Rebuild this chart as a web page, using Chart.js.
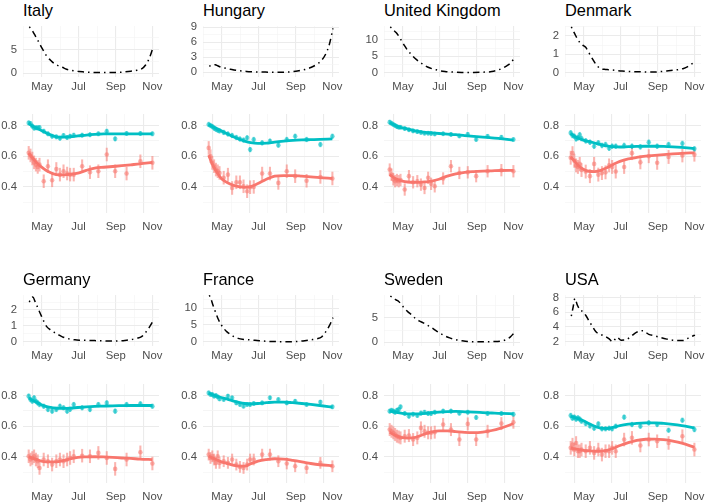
<!DOCTYPE html>
<html>
<head>
<meta charset="utf-8">
<script src="https://cdn.jsdelivr.net/npm/chart.js@4.4.1/dist/chart.umd.min.js"></script>
<style>
html, body { margin: 0; padding: 0; background: #fff; overflow: hidden; }
#wrap { position: relative; width: 709px; height: 502px; overflow: hidden; background: #fff; }
.title { position: absolute; font-family: "Liberation Sans", Arial, sans-serif; font-size: 16.4px; line-height: 16.4px; color: #000; white-space: nowrap; }
canvas { position: absolute; }
</style>
</head>
<body>
<div id="wrap"></div>
<script>
// ---- data (days are day-of-year 2020) ----
const countries = ['Italy', 'Hungary', 'United Kingdom', 'Denmark', 'Germany', 'France', 'Sweden', 'USA'];

const monthDays = [122, 183, 245, 306];
const monthLabels = ['May', 'Jul', 'Sep', 'Nov'];
const midMonthDays = [91.5, 152.5, 214, 275.5];

// upper panels
const topDays = [101, 104, 107, 111, 115, 120, 125, 130, 136, 142, 149, 156, 163, 170, 177, 184, 192, 200, 210, 220, 230, 240, 250, 260, 270, 280, 288, 295, 301, 307];
const topValues = [
  [9.8, 9.4, 8.8, 7.9, 7.0, 5.8, 4.7, 3.6, 2.8, 2.1, 1.6, 1.25, 0.85, 0.62, 0.47, 0.35, 0.28, 0.22, 0.16, 0.14, 0.14, 0.14, 0.18, 0.28, 0.42, 0.62, 0.92, 1.8, 3.2, 5.4],
  [1.2, 1.4, 1.55, 1.5, 1.3, 1.05, 0.9, 0.75, 0.6, 0.48, 0.36, 0.26, 0.18, 0.12, 0.09, 0.07, 0.05, 0.03, 0.02, 0.02, 0.05, 0.12, 0.3, 0.55, 0.95, 1.6, 2.4, 3.7, 5.6, 8.8],
  [14.0, 13.5, 12.9, 12.2, 11.2, 9.7, 8.2, 6.8, 5.6, 4.4, 3.4, 2.5, 1.75, 1.25, 0.9, 0.6, 0.38, 0.25, 0.15, 0.1, 0.1, 0.1, 0.12, 0.2, 0.35, 0.8, 1.4, 2.1, 2.9, 4.3],
  [2.5, 2.3, 2.1, 1.85, 1.65, 1.5, 1.38, 1.1, 0.76, 0.45, 0.22, 0.17, 0.15, 0.13, 0.1, 0.08, 0.06, 0.05, 0.04, 0.03, 0.02, 0.02, 0.05, 0.08, 0.12, 0.16, 0.22, 0.32, 0.45, 0.58],
  [2.5, 2.75, 2.82, 2.5, 2.15, 1.72, 1.3, 0.95, 0.75, 0.6, 0.45, 0.31, 0.22, 0.16, 0.12, 0.1, 0.09, 0.08, 0.07, 0.06, 0.05, 0.04, 0.05, 0.08, 0.13, 0.22, 0.32, 0.6, 0.92, 1.3],
  [13.9, 12.7, 11.0, 9.0, 7.1, 5.3, 4.0, 3.0, 2.2, 1.5, 1.0, 0.7, 0.6, 0.52, 0.42, 0.3, 0.18, 0.1, 0.03, 0.0, 0.0, 0.02, 0.12, 0.3, 0.55, 0.85, 1.4, 3.0, 4.8, 7.2],
  [9.5, 9.3, 9.0, 8.7, 8.4, 7.7, 6.9, 6.3, 5.7, 5.0, 4.4, 4.0, 3.5, 3.0, 2.4, 1.85, 1.3, 0.9, 0.55, 0.3, 0.14, 0.12, 0.12, 0.12, 0.13, 0.16, 0.3, 0.6, 1.1, 1.9],
  [5.5, 6.7, 7.9, 7.0, 6.4, 6.1, 5.6, 4.9, 4.1, 3.35, 3.0, 2.8, 2.45, 2.0, 2.6, 2.2, 2.25, 2.7, 3.3, 3.5, 3.0, 2.8, 2.55, 2.35, 2.2, 2.15, 2.15, 2.45, 2.7, 2.9]
];
const topTicks = [[0, 5], [0, 3, 6, 9], [0, 5, 10], [0, 1, 2], [0, 1, 2], [0, 5, 10], [0, 5], [2, 4, 6, 8]];
const topLimits = [[-0.8, 9.98], [-0.94, 9.26], [-1.31, 14.28], [-0.25, 2.55], [-0.27, 2.95], [-1.29, 13.98], [-0.77, 9.73], [1.41, 8.37]];

// lower panels: smooth fits
const fitDays = [100, 107, 114, 121, 130, 140, 150, 160, 170, 182, 196, 210, 225, 240, 255, 270, 285, 306];
const cyanFit = [
  [0.815, 0.795, 0.78, 0.768, 0.75, 0.733, 0.724, 0.724, 0.728, 0.732, 0.738, 0.742, 0.745, 0.746, 0.746, 0.746, 0.746, 0.745],
  [0.806, 0.792, 0.778, 0.765, 0.748, 0.728, 0.712, 0.698, 0.688, 0.683, 0.685, 0.692, 0.698, 0.703, 0.706, 0.708, 0.71, 0.713],
  [0.817, 0.805, 0.792, 0.785, 0.777, 0.767, 0.76, 0.755, 0.752, 0.748, 0.744, 0.74, 0.734, 0.729, 0.724, 0.72, 0.714, 0.705],
  [0.748, 0.728, 0.715, 0.705, 0.696, 0.686, 0.676, 0.667, 0.662, 0.66, 0.662, 0.664, 0.665, 0.665, 0.664, 0.661, 0.657, 0.65],
  [0.783, 0.768, 0.755, 0.74, 0.727, 0.72, 0.716, 0.716, 0.718, 0.722, 0.726, 0.729, 0.731, 0.733, 0.734, 0.735, 0.735, 0.735],
  [0.815, 0.805, 0.795, 0.787, 0.778, 0.765, 0.755, 0.748, 0.746, 0.748, 0.753, 0.757, 0.757, 0.753, 0.748, 0.742, 0.735, 0.724],
  [0.698, 0.694, 0.689, 0.684, 0.681, 0.68, 0.681, 0.684, 0.688, 0.692, 0.695, 0.696, 0.694, 0.692, 0.689, 0.686, 0.683, 0.681],
  [0.665, 0.657, 0.647, 0.635, 0.618, 0.6, 0.588, 0.585, 0.592, 0.604, 0.613, 0.619, 0.622, 0.622, 0.618, 0.612, 0.604, 0.59]
];
const pinkFit = [
  [0.62, 0.585, 0.555, 0.53, 0.505, 0.487, 0.478, 0.478, 0.482, 0.49, 0.508, 0.522, 0.528, 0.533, 0.538, 0.544, 0.55, 0.56],
  [0.607, 0.54, 0.493, 0.455, 0.43, 0.412, 0.402, 0.397, 0.402, 0.422, 0.45, 0.47, 0.474, 0.474, 0.47, 0.465, 0.46, 0.455],
  [0.48, 0.46, 0.447, 0.438, 0.432, 0.43, 0.43, 0.433, 0.438, 0.45, 0.47, 0.485, 0.495, 0.5, 0.503, 0.505, 0.507, 0.508],
  [0.595, 0.565, 0.535, 0.515, 0.502, 0.5, 0.508, 0.525, 0.545, 0.566, 0.582, 0.592, 0.6, 0.605, 0.61, 0.615, 0.619, 0.622],
  [0.4, 0.39, 0.382, 0.373, 0.368, 0.367, 0.37, 0.378, 0.388, 0.397, 0.4, 0.401, 0.4, 0.397, 0.393, 0.39, 0.386, 0.382],
  [0.404, 0.392, 0.38, 0.368, 0.358, 0.347, 0.34, 0.34, 0.355, 0.373, 0.383, 0.388, 0.386, 0.378, 0.368, 0.357, 0.349, 0.343],
  [0.56, 0.545, 0.533, 0.525, 0.522, 0.525, 0.537, 0.552, 0.563, 0.57, 0.57, 0.565, 0.56, 0.558, 0.562, 0.572, 0.588, 0.616],
  [0.457, 0.452, 0.447, 0.443, 0.44, 0.437, 0.437, 0.442, 0.455, 0.474, 0.493, 0.507, 0.515, 0.516, 0.512, 0.503, 0.49, 0.463]
];

// lower panels: observed points
const obsDays = [100, 103, 106, 109, 112, 115, 118, 125, 132, 139, 146, 152, 158, 164, 169, 175, 189, 202, 216, 230, 244, 263, 286, 306];
const cyanObs = [
  [0.817, 0.813, 0.796, 0.783, 0.785, 0.785, 0.787, 0.763, 0.746, 0.73, 0.726, 0.717, 0.735, 0.722, 0.73, 0.737, 0.737, 0.74, 0.746, 0.763, 0.713, 0.748, 0.748, 0.746],
  [0.807, 0.8, 0.793, 0.783, 0.776, 0.77, 0.765, 0.755, 0.745, 0.735, 0.722, 0.712, 0.705, 0.72, 0.643, 0.709, 0.687, 0.698, 0.672, 0.709, 0.73, 0.709, 0.676, 0.73],
  [0.822, 0.815, 0.807, 0.8, 0.793, 0.789, 0.789, 0.78, 0.772, 0.765, 0.76, 0.755, 0.75, 0.75, 0.748, 0.745, 0.746, 0.742, 0.732, 0.742, 0.709, 0.73, 0.724, 0.709],
  [0.752, 0.735, 0.73, 0.713, 0.72, 0.74, 0.715, 0.7, 0.691, 0.665, 0.687, 0.67, 0.676, 0.652, 0.665, 0.665, 0.67, 0.665, 0.661, 0.691, 0.665, 0.676, 0.683, 0.648],
  [0.796, 0.774, 0.763, 0.785, 0.763, 0.752, 0.741, 0.73, 0.709, 0.698, 0.709, 0.73, 0.72, 0.698, 0.71, 0.741, 0.72, 0.709, 0.741, 0.752, 0.698, 0.741, 0.746, 0.73],
  [0.817, 0.807, 0.807, 0.796, 0.8, 0.791, 0.778, 0.774, 0.796, 0.785, 0.752, 0.741, 0.73, 0.741, 0.741, 0.748, 0.752, 0.785, 0.774, 0.752, 0.763, 0.741, 0.757, 0.726],
  [0.698, 0.704, 0.698, 0.691, 0.704, 0.709, 0.726, 0.683, 0.665, 0.678, 0.67, 0.685, 0.691, 0.683, 0.683, 0.691, 0.698, 0.698, 0.685, 0.691, 0.657, 0.683, 0.683, 0.678],
  [0.67, 0.652, 0.659, 0.646, 0.654, 0.646, 0.633, 0.617, 0.602, 0.587, 0.615, 0.583, 0.583, 0.587, 0.583, 0.6, 0.659, 0.611, 0.6, 0.622, 0.611, 0.574, 0.639, 0.578]
];
const pinkObs = [
  [0.622, 0.605, 0.585, 0.56, 0.545, 0.53, 0.545, 0.437, 0.535, 0.443, 0.517, 0.48, 0.502, 0.487, 0.48, 0.48, 0.535, 0.496, 0.502, 0.611, 0.502, 0.487, 0.567, 0.557],
  [0.654, 0.6, 0.556, 0.535, 0.513, 0.502, 0.491, 0.46, 0.48, 0.393, 0.43, 0.43, 0.404, 0.372, 0.398, 0.4, 0.487, 0.487, 0.426, 0.502, 0.47, 0.44, 0.465, 0.455],
  [0.513, 0.48, 0.45, 0.437, 0.445, 0.437, 0.445, 0.383, 0.47, 0.43, 0.437, 0.415, 0.393, 0.459, 0.42, 0.404, 0.455, 0.535, 0.491, 0.495, 0.47, 0.502, 0.509, 0.502],
  [0.59, 0.62, 0.57, 0.54, 0.53, 0.55, 0.51, 0.5, 0.47, 0.55, 0.48, 0.49, 0.495, 0.54, 0.53, 0.5, 0.53, 0.62, 0.56, 0.6, 0.557, 0.595, 0.605, 0.61],
  [0.404, 0.383, 0.393, 0.404, 0.383, 0.372, 0.328, 0.383, 0.372, 0.35, 0.372, 0.383, 0.372, 0.383, 0.393, 0.404, 0.408, 0.404, 0.426, 0.393, 0.322, 0.383, 0.43, 0.357],
  [0.415, 0.393, 0.404, 0.383, 0.361, 0.404, 0.361, 0.372, 0.361, 0.383, 0.35, 0.335, 0.328, 0.35, 0.383, 0.383, 0.415, 0.415, 0.372, 0.357, 0.339, 0.328, 0.361, 0.339],
  [0.578, 0.567, 0.557, 0.546, 0.535, 0.53, 0.524, 0.535, 0.539, 0.513, 0.524, 0.589, 0.567, 0.557, 0.557, 0.561, 0.611, 0.578, 0.513, 0.615, 0.513, 0.567, 0.617, 0.626],
  [0.459, 0.48, 0.448, 0.491, 0.437, 0.437, 0.448, 0.437, 0.459, 0.426, 0.448, 0.415, 0.437, 0.437, 0.459, 0.437, 0.513, 0.524, 0.474, 0.513, 0.502, 0.491, 0.535, 0.448]
];
const cyanErr = [0.014, 0.015, 0.013, 0.016, 0.015, 0.013, 0.014, 0.015];
const pinkErr = [0.042, 0.042, 0.038, 0.043, 0.042, 0.036, 0.04, 0.042];

const lowerTicks = [0.4, 0.6, 0.8];
const lowerLimits = [0.23, 0.875];

// ---- layout / style ----
const FONT = '"Liberation Sans", Arial, sans-serif';
const CYAN = '#00BFC4';
const PINK = '#F8766D';
const CYAN_A = 'rgba(0,191,196,0.55)';
const PINK_A = 'rgba(248,118,109,0.55)';

const colLeft = [23, 203, 384, 565];
const panelW = 136;
const titleTop = [2, 271];
const upperTop = [26, 295];
const upperH = 51;
const lowerTop = [114, 384];
const lowerH = 99;

const YW = 34, PT = 14, PR = 14, XH = 26;

const wrap = document.getElementById('wrap');

function withMinors(majors, lo, hi) {
  const step = majors[1] - majors[0];
  const all = new Set(majors);
  majors.forEach(m => {
    [m - step / 2, m + step / 2].forEach(v => { if (v > lo && v < hi) all.add(v); });
  });
  return Array.from(all).sort((a, b) => a - b);
}

function gridColor(majors) {
  return ctx => (ctx.tick && majors.includes(ctx.tick.value)) ? '#EBEBEB' : '#F3F3F3';
}
function gridWidth(majors) {
  return ctx => (ctx.tick && majors.includes(ctx.tick.value)) ? 1.1 : 0.6;
}

function makeScales(yMajors, lo, hi, xPad, fmt) {
  const yAll = withMinors(yMajors, lo, hi);
  const xAll = monthDays.concat(midMonthDays).sort((a, b) => a - b);
  return {
    x: {
      type: 'linear', min: 90.5, max: 317, bounds: 'data', offset: false,
      afterBuildTicks: s => { s.ticks = xAll.map(v => ({ value: v })); },
      afterFit: s => { s.height = XH; },
      ticks: {
        autoSkip: false, maxRotation: 0, minRotation: 0, padding: xPad,
        color: '#4D4D4D', font: { family: FONT, size: 11.3 },
        callback: v => { const k = monthDays.indexOf(v); return k >= 0 ? monthLabels[k] : ''; }
      },
      grid: { drawTicks: false, color: gridColor(monthDays), lineWidth: gridWidth(monthDays) },
      border: { display: false }
    },
    y: {
      type: 'linear', min: lo, max: hi, bounds: 'data',
      afterBuildTicks: s => { s.ticks = yAll.map(v => ({ value: v })); },
      afterFit: s => { s.width = YW; },
      ticks: {
        autoSkip: false, padding: 6,
        color: '#4D4D4D', font: { family: FONT, size: 11.3 },
        callback: v => yMajors.includes(v) ? fmt(v) : ''
      },
      grid: { drawTicks: false, color: gridColor(yMajors), lineWidth: gridWidth(yMajors) },
      border: { display: false }
    }
  };
}

function makeCanvas(left, top, w, h) {
  const c = document.createElement('canvas');
  c.width = w;
  c.height = h;
  c.style.left = left + 'px';
  c.style.top = top + 'px';
  c.style.width = w + 'px';
  c.style.height = h + 'px';
  wrap.appendChild(c);
  return c;
}

function makeChart(canvas, datasets, scales) {
  return new Chart(canvas, {
    type: 'scatter',
    data: { datasets: datasets },
    options: {
      responsive: false,
      animation: false,
      events: [],
      layout: { padding: { top: PT, right: PR, left: 0, bottom: 0 } },
      plugins: { legend: { display: false }, tooltip: { enabled: false } },
      scales: scales
    }
  });
}

countries.forEach((name, i) => {
  const col = i % 4;
  const row = Math.floor(i / 4);
  const left = colLeft[col];

  const t = document.createElement('div');
  t.className = 'title';
  t.textContent = name;
  t.style.left = left + 'px';
  t.style.top = titleTop[row] + 'px';
  wrap.appendChild(t);

  // upper panel: dash-dot curve
  const c1 = makeCanvas(left - YW, upperTop[row] - PT, YW + panelW + PR, PT + upperH + XH);
  makeChart(c1, [{
    type: 'line',
    data: topDays.map((d, j) => ({ x: d, y: topValues[i][j] })),
    borderColor: '#000',
    borderWidth: 1.5,
    borderDash: [1.5, 4, 6.5, 4],
    pointRadius: 0,
    cubicInterpolationMode: 'monotone',
    fill: false
  }], makeScales(topTicks[i], topLimits[i][0], topLimits[i][1], 3.5, v => String(v)));

  // lower panel: fits, points, error bars
  const c2 = makeCanvas(left - YW, lowerTop[row] - PT, YW + panelW + PR, PT + lowerH + XH);
  const series = [
    { fit: cyanFit[i], obs: cyanObs[i], err: cyanErr[i], line: CYAN, fillc: CYAN_A },
    { fit: pinkFit[i], obs: pinkObs[i], err: pinkErr[i], line: PINK, fillc: PINK_A }
  ];
  const ds = [];
  series.forEach(s => {
    ds.push({
      type: 'line',
      data: fitDays.map((d, j) => ({ x: d, y: s.fit[j] })),
      borderColor: s.line, borderWidth: 2.8, pointRadius: 0,
      cubicInterpolationMode: 'monotone', fill: false, order: 0
    });
    ds.push({
      type: 'scatter',
      data: obsDays.map((d, j) => ({ x: d, y: s.obs[j] })),
      backgroundColor: s.fillc, borderWidth: 0, pointRadius: 2.3, order: 1
    });
    ds.push({
      type: 'bar',
      data: obsDays.map((d, j) => ({ x: d, y: [s.obs[j] - s.err, s.obs[j] + s.err] })),
      backgroundColor: s.fillc, borderWidth: 0, barThickness: 1.4, grouped: false, order: 2
    });
  });
  makeChart(c2, ds, makeScales(lowerTicks, lowerLimits[0], lowerLimits[1], 7, v => v.toFixed(1)));
});
</script>
</body>
</html>
